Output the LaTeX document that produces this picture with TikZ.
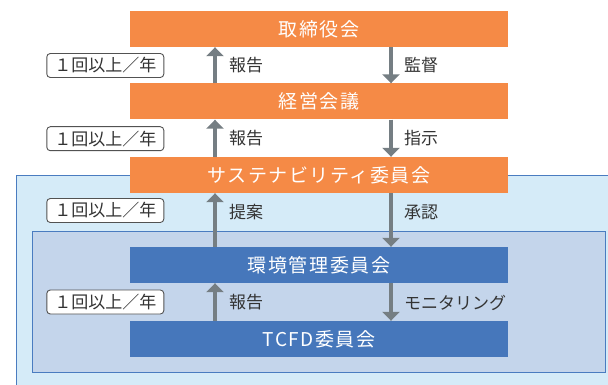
\documentclass[tikz,border=0pt]{standalone}
\usepackage{fontspec}
\setmainfont{Noto Sans CJK JP}
\newfontfamily\boxfont[LetterSpace=8]{Noto Sans CJK JP}
\usetikzlibrary{arrows.meta}
\definecolor{orangebox}{HTML}{F58A46}
\definecolor{bluebox}{HTML}{4677BB}
\definecolor{outerfill}{HTML}{D5EBF8}
\definecolor{innerfill}{HTML}{C4D5EB}
\definecolor{regionline}{HTML}{4A7CC0}
\definecolor{arrowgray}{HTML}{757E83}
\definecolor{textdark}{HTML}{333333}
\tikzset{
  orgbox/.style={minimum width=378pt, minimum height=36pt, inner sep=0pt,
    text=white, font=\boxfont\fontsize{19}{22}\selectfont},
  obox/.style={orgbox, fill=orangebox},
  bbox/.style={orgbox, fill=bluebox},
  arr/.style={draw=arrowgray, line width=3.8pt,
    -{Triangle[width=17pt,length=9pt]}, shorten >=0pt},
  lab/.style={anchor=west, inner sep=0pt, text=textdark,
    font=\fontsize{17}{20}\selectfont},
  badge/.style={draw=textdark!85, line width=0.9pt, fill=white,
    rounded corners=3.5pt, minimum width=117pt, minimum height=24pt,
    inner sep=0pt, text=textdark, font=\fontsize{17}{20}\selectfont},
}
\begin{document}
\begin{tikzpicture}[x=1pt,y=-1pt]
\useasboundingbox (0,0) rectangle (608,385);
% regions
\fill[outerfill] (16,175) rectangle (620,400);
\draw[regionline, line width=0.8pt] (16,400) -- (16,175) -- (620,175);
\draw[regionline, line width=0.8pt, fill=innerfill] (32.3,231.3) rectangle (605.7,372.3);
% boxes
\node[obox] (b1) at (319,29) {取締役会};
\node[obox] (b2) at (319,101.5) {経営会議};
\node[obox] (b3) at (319,175) {サステナビリティ委員会};
\node[bbox] (b4) at (319,265) {環境管理委員会};
\node[bbox] (b5) at (319,339) {TCFD委員会};
% arrow columns
\coordinate (ux) at (215,0);
\coordinate (dx) at (391,0);
\draw[arr] (b2.north -| ux) -- (b1.south -| ux);
\draw[arr] (b1.south -| dx) -- (b2.north -| dx);
\draw[arr] (b3.north -| ux) -- (b2.south -| ux);
\draw[arr] (b2.south -| dx) -- (b3.north -| dx);
\draw[arr] (b4.north -| ux) -- (b3.south -| ux);
\draw[arr] (b3.south -| dx) -- (b4.north -| dx);
\draw[arr] (b5.north -| ux) -- (b4.south -| ux);
\draw[arr] (b4.south -| dx) -- (b5.north -| dx);
% labels
\node[lab] (l1) at (229,65.5) {報告};
\node[lab] (r1) at (404,65.5) {監督};
\node[lab] (l2) at (229,138.5) {報告};
\node[lab] (r2) at (404,138.5) {指示};
\node[lab] (l3) at (229,212) {提案};
\node[lab] (r3) at (404,212) {承認};
\node[lab] (l4) at (229,302.5) {報告};
\node[lab] (r4) at (404,302.5) {モニタリング};
% badges
\node[badge] (f1) at (105.3,65.5) {１回以上／年};
\node[badge] (f2) at (105.3,138.7) {１回以上／年};
\node[badge] (f3) at (105.3,210.5) {１回以上／年};
\node[badge] (f4) at (105.3,302) {１回以上／年};
\end{tikzpicture}
\end{document}
